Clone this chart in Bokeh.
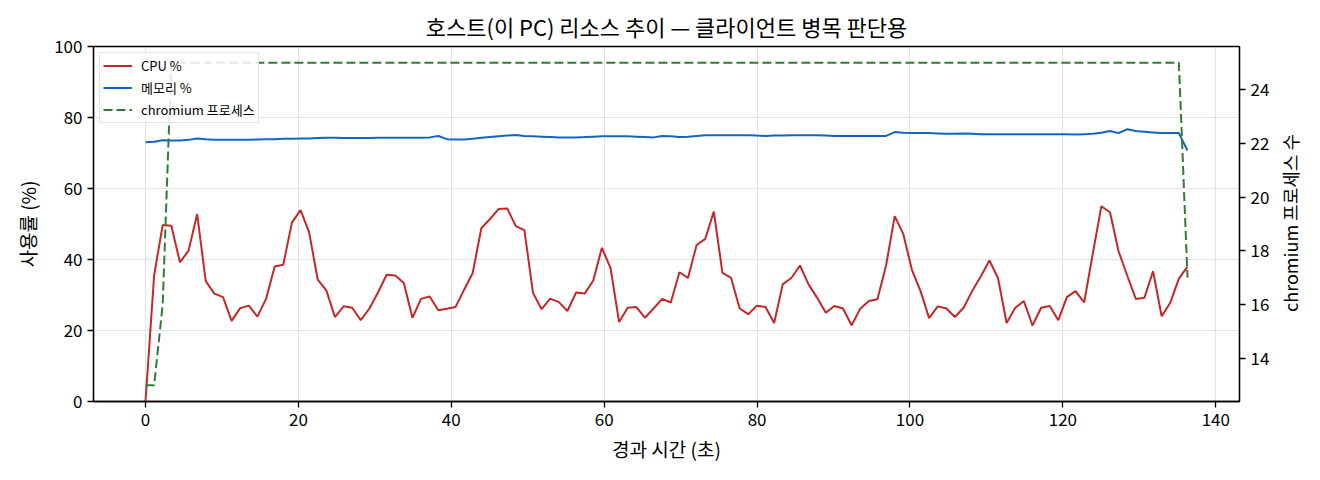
import math
from bokeh.plotting import figure
from bokeh.models import Range1d, LinearAxis, FixedTicker, Label
from bokeh.embed import file_html
from bokeh.resources import INLINE

# ---- data ----
elapsed_s = [
    0.00, 1.13, 2.25, 3.38, 4.51, 5.63, 6.76, 7.88, 9.01, 10.14,
    11.26, 12.39, 13.52, 14.64, 15.77, 16.90, 18.02, 19.15, 20.28, 21.40,
    22.53, 23.65, 24.78, 25.91, 27.03, 28.16, 29.29, 30.41, 31.54, 32.67,
    33.79, 34.92, 36.04, 37.17, 38.30, 39.42, 40.55, 41.68, 42.80, 43.93,
    45.06, 46.18, 47.31, 48.44, 49.56, 50.69, 51.81, 52.94, 54.07, 55.19,
    56.32, 57.45, 58.57, 59.70, 60.83, 61.95, 63.08, 64.20, 65.33, 66.46,
    67.58, 68.71, 69.84, 70.96, 72.09, 73.22, 74.34, 75.47, 76.60, 77.72,
    78.85, 79.97, 81.10, 82.23, 83.35, 84.48, 85.61, 86.73, 87.86, 88.99,
    90.11, 91.24, 92.36, 93.49, 94.62, 95.74, 96.87, 98.00, 99.12, 100.25,
    101.38, 102.50, 103.63, 104.76, 105.88, 107.01, 108.13, 109.26, 110.39, 111.51,
    112.64, 113.77, 114.89, 116.02, 117.15, 118.27, 119.40, 120.52, 121.65, 122.78,
    123.90, 125.03, 126.16, 127.28, 128.41, 129.54, 130.66, 131.79, 132.92, 134.04,
    135.17, 136.30,
]

cpu_pct = [
    0.0, 35.5, 49.7, 49.5, 39.2, 42.5, 52.8, 33.9, 30.4, 29.4,
    22.7, 26.3, 27.0, 23.9, 28.9, 38.0, 38.5, 50.4, 53.9, 47.7,
    34.3, 31.3, 23.8, 26.8, 26.4, 22.9, 26.2, 30.7, 35.7, 35.5,
    33.4, 23.6, 28.9, 29.6, 25.7, 26.1, 26.6, 31.5, 36.2, 48.8,
    51.4, 54.2, 54.4, 49.4, 48.3, 30.6, 26.0, 29.0, 28.0, 25.5,
    30.7, 30.4, 34.1, 43.3, 37.6, 22.4, 26.4, 26.6, 23.6, 26.2,
    28.9, 27.9, 36.4, 34.8, 44.1, 45.8, 53.5, 36.2, 34.8, 26.2,
    24.6, 27.0, 26.6, 22.1, 33.0, 34.8, 38.3, 33.0, 29.2, 25.0,
    26.9, 26.2, 21.5, 26.1, 28.3, 28.8, 38.3, 52.2, 47.2, 37.1,
    31.1, 23.5, 26.8, 26.2, 23.8, 26.4, 31.1, 35.2, 39.7, 34.8,
    22.1, 26.4, 28.3, 21.4, 26.4, 26.9, 22.9, 29.4, 31.1, 27.9,
    41.5, 55.0, 53.3, 42.3, 35.5, 28.9, 29.2, 36.7, 24.0, 27.8,
    34.6, 38.0,
]

mem_pct = [
    73.0, 73.2, 73.6, 73.5, 73.5, 73.7, 74.1, 73.9, 73.7, 73.7,
    73.7, 73.7, 73.7, 73.8, 73.9, 73.9, 74.0, 74.0, 74.1, 74.1,
    74.2, 74.3, 74.3, 74.2, 74.2, 74.2, 74.2, 74.3, 74.3, 74.3,
    74.3, 74.3, 74.3, 74.4, 74.8, 73.9, 73.8, 73.8, 74.0, 74.3,
    74.5, 74.7, 74.9, 75.1, 74.8, 74.7, 74.6, 74.5, 74.4, 74.4,
    74.4, 74.5, 74.6, 74.7, 74.7, 74.7, 74.7, 74.6, 74.5, 74.4,
    74.8, 74.7, 74.5, 74.6, 74.8, 75.0, 75.0, 75.0, 75.0, 75.0,
    75.0, 74.9, 74.8, 74.9, 74.9, 75.0, 75.0, 75.0, 75.0, 74.9,
    74.8, 74.8, 74.8, 74.8, 74.8, 74.8, 74.8, 75.9, 75.7, 75.6,
    75.6, 75.6, 75.5, 75.4, 75.4, 75.5, 75.4, 75.3, 75.3, 75.3,
    75.3, 75.3, 75.3, 75.3, 75.3, 75.3, 75.3, 75.3, 75.2, 75.3,
    75.4, 75.7, 76.2, 75.6, 76.7, 76.2, 76.0, 75.8, 75.6, 75.6,
    75.6, 70.7,
]

chromium_procs = [13, 13, 16] + [25] * 118 + [17]

x_ticks = [0, 20, 40, 60, 80, 100, 120, 140]
left_ticks = [0, 20, 40, 60, 80, 100]
right_ticks = [14, 16, 18, 20, 22, 24]

title_text = "호스트(이 PC) 리소스 추이 — 클라이언트 병목 판단용"
x_label = "경과 시간 (초)"
left_label = "사용률 (%)"
right_label = "chromium 프로세스 수"
legend_labels = ["CPU %", "메모리 %", "chromium 프로세스"]

FONT = "Noto Sans CJK KR"

# ---- figure ----
p = figure(
    width=1304, height=464,
    output_backend="svg", toolbar_location=None,
    x_range=Range1d(-6.8, 143.1), y_range=Range1d(0, 100),
    min_border_left=93, min_border_right=65,
    min_border_top=46, min_border_bottom=61,
)
p.extra_y_ranges = {"proc": Range1d(12.4, 25.6)}

p.title.text = title_text
p.title.align = "center"
p.title.text_font = FONT
p.title.text_font_size = "22px"
p.title.text_font_style = "normal"
p.title.text_color = "black"

p.outline_line_color = "black"
p.outline_line_width = 1.3
p.outline_line_alpha = 1.0
p.background_fill_color = "white"
p.border_fill_color = "white"

p.line(elapsed_s, cpu_pct, color="#c62828", line_width=2, legend_label=legend_labels[0])
p.line(elapsed_s, mem_pct, color="#1565c0", line_width=2, legend_label=legend_labels[1])
p.line(elapsed_s, chromium_procs, color="#2e7d32", line_width=2, line_dash="9 4",
       y_range_name="proc", legend_label=legend_labels[2])

ax2 = LinearAxis(y_range_name="proc")
p.add_layout(ax2, "right")

# right-axis title, reading bottom-to-top like matplotlib's
right_title = Label(x=17, y=178.5, x_units="screen", y_units="screen",
                    text=right_label, angle=math.pi / 2,
                    text_font=FONT, text_font_size="18px", text_color="black",
                    text_align="center", text_baseline="middle")
p.add_layout(right_title, "right")

p.xaxis[0].ticker = FixedTicker(ticks=x_ticks)
p.yaxis[0].ticker = FixedTicker(ticks=left_ticks)
ax2.ticker = FixedTicker(ticks=right_ticks)
p.xaxis[0].axis_label = x_label
p.yaxis[0].axis_label = left_label

for ax in [p.xaxis[0], p.yaxis[0], ax2]:
    ax.major_label_text_font = FONT
    ax.major_label_text_font_size = "17px"
    ax.major_label_text_color = "black"
    ax.axis_label_text_font = FONT
    ax.axis_label_text_font_size = "19px"
    ax.axis_label_text_font_style = "normal"
    ax.axis_label_text_color = "black"
    ax.major_tick_out = 6
    ax.major_tick_in = 0
    ax.minor_tick_out = 0
    ax.minor_tick_in = 0
    ax.axis_line_color = "black"
    ax.axis_line_width = 1.3
    ax.major_tick_line_color = "black"
    ax.major_tick_line_width = 1.3
    ax.major_label_standoff = 5

p.xaxis[0].axis_label_standoff = 6
p.yaxis[0].axis_label_standoff = 10

p.xgrid.ticker = FixedTicker(ticks=x_ticks)
p.ygrid.ticker = FixedTicker(ticks=left_ticks)
for g in [p.xgrid, p.ygrid]:
    g.grid_line_color = "#b0b0b0"
    g.grid_line_alpha = 0.35
    g.grid_line_width = 1

leg = p.legend[0]
leg.location = "top_left"
leg.margin = 6
leg.padding = 3
leg.spacing = 3
leg.glyph_width = 29
leg.glyph_height = 19
leg.label_height = 19
leg.label_standoff = 9
leg.label_text_font = FONT
leg.label_text_font_size = "13px"
leg.label_text_color = "black"
leg.border_line_color = "#cccccc"
leg.border_line_width = 1
leg.background_fill_alpha = 0.85

open("out.html", "w").write(file_html(p, INLINE))
